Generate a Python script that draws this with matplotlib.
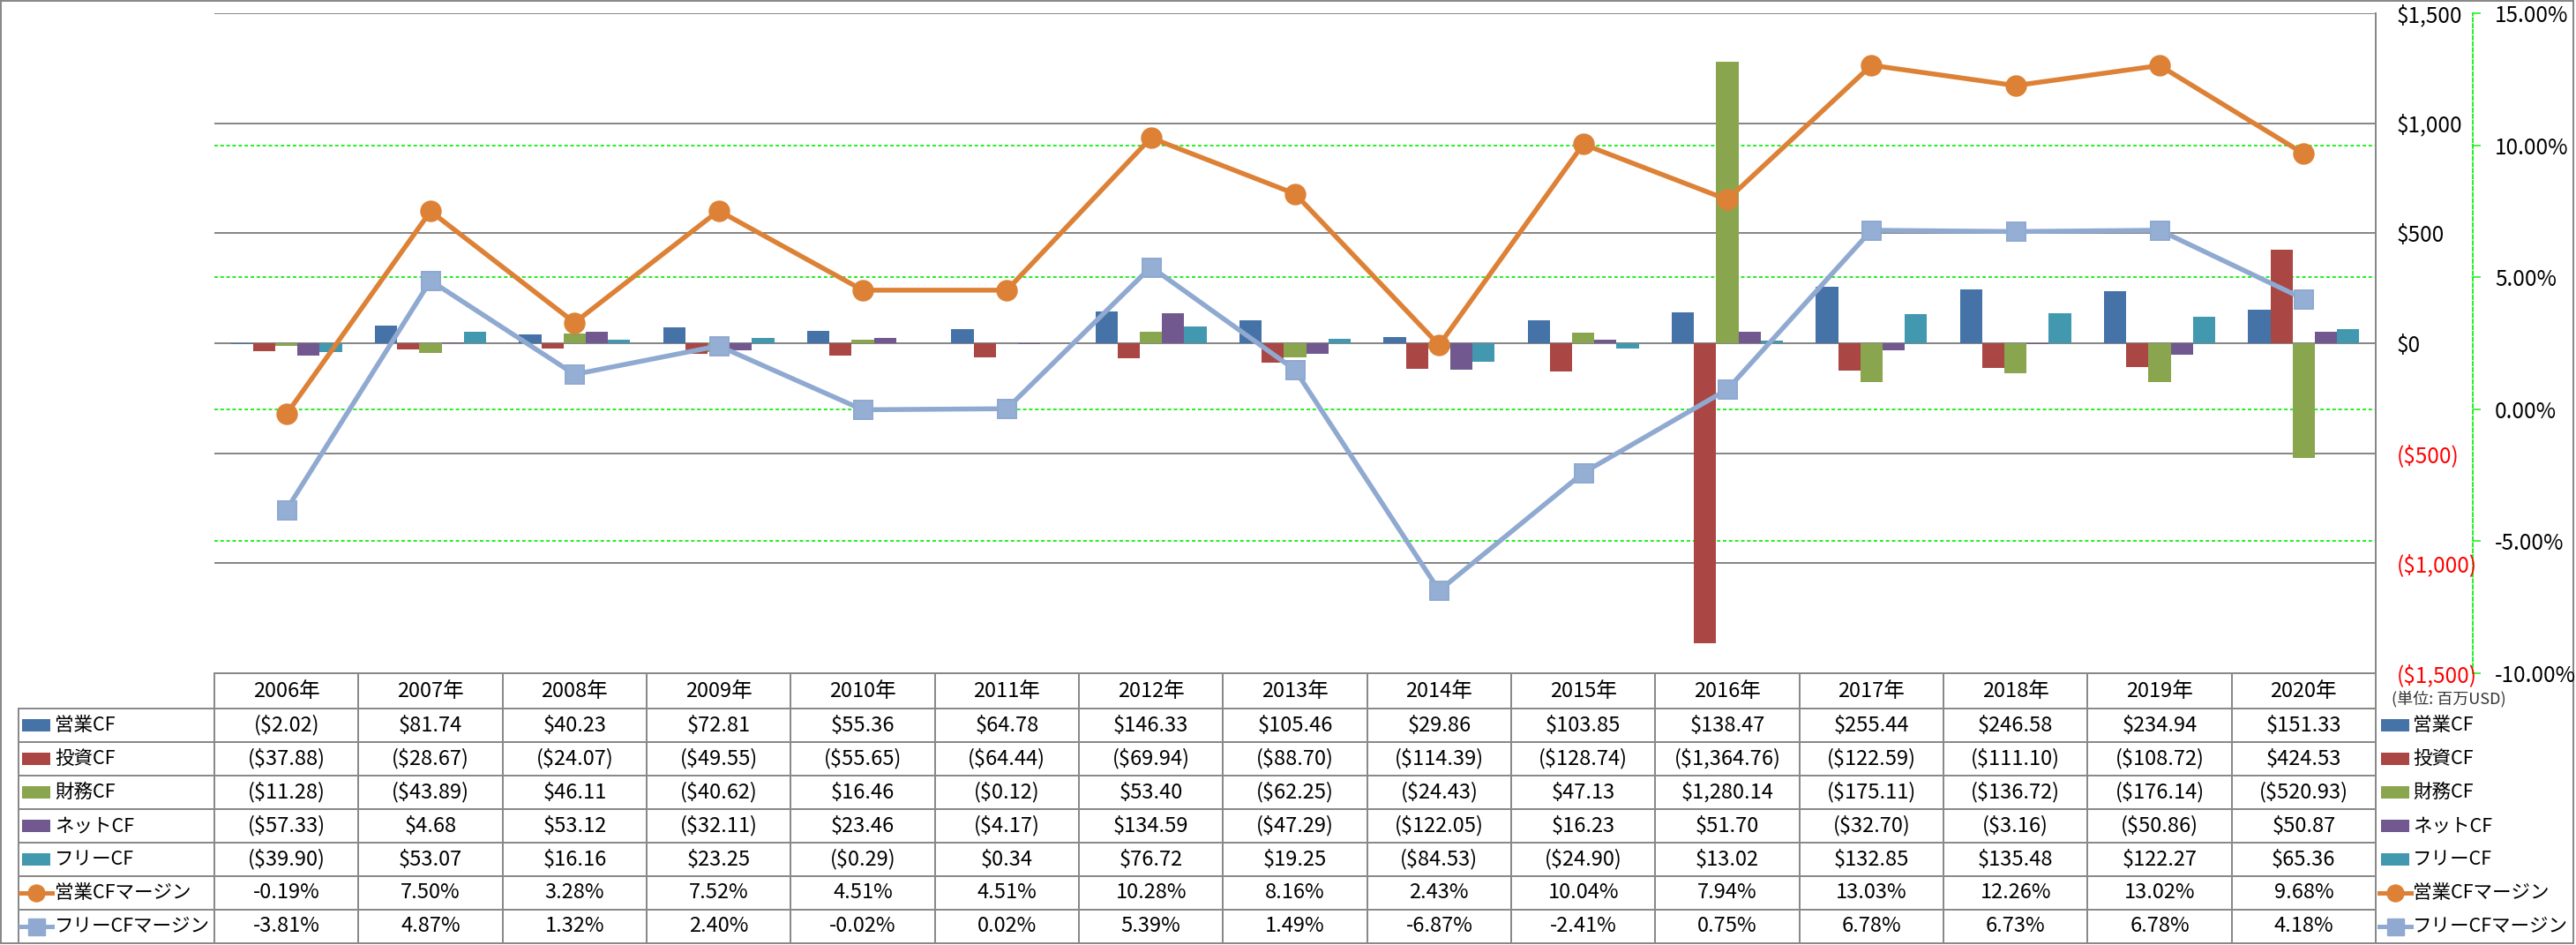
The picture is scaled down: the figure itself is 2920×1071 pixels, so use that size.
import matplotlib
matplotlib.use("Agg")
import matplotlib.pyplot as plt
from matplotlib.patches import Rectangle
import matplotlib.transforms as mtransforms
import numpy as np

plt.rcParams['font.family'] = ['Noto Sans CJK JP', 'DejaVu Sans']

# ---------------- data ----------------
years = ["2006年", "2007年", "2008年", "2009年", "2010年", "2011年", "2012年", "2013年",
         "2014年", "2015年", "2016年", "2017年", "2018年", "2019年", "2020年"]
op_cf = [-2.02, 81.74, 40.23, 72.81, 55.36, 64.78, 146.33, 105.46, 29.86, 103.85,
         138.47, 255.44, 246.58, 234.94, 151.33]
inv_cf = [-37.88, -28.67, -24.07, -49.55, -55.65, -64.44, -69.94, -88.70, -114.39, -128.74,
          -1364.76, -122.59, -111.10, -108.72, 424.53]
fin_cf = [-11.28, -43.89, 46.11, -40.62, 16.46, -0.12, 53.40, -62.25, -24.43, 47.13,
          1280.14, -175.11, -136.72, -176.14, -520.93]
net_cf = [-57.33, 4.68, 53.12, -32.11, 23.46, -4.17, 134.59, -47.29, -122.05, 16.23,
          51.70, -32.70, -3.16, -50.86, 50.87]
free_cf = [-39.90, 53.07, 16.16, 23.25, -0.29, 0.34, 76.72, 19.25, -84.53, -24.90,
           13.02, 132.85, 135.48, 122.27, 65.36]
op_margin = [-0.19, 7.50, 3.28, 7.52, 4.51, 4.51, 10.28, 8.16, 2.43, 10.04,
             7.94, 13.03, 12.26, 13.02, 9.68]
free_margin = [-3.81, 4.87, 1.32, 2.40, -0.02, 0.02, 5.39, 1.49, -6.87, -2.41,
               0.75, 6.78, 6.73, 6.78, 4.18]

bar_names = ["営業CF", "投資CF", "財務CF", "ネットCF", "フリーCF"]
line_names = ["営業CFマージン", "フリーCFマージン"]
usd_ticks = [-1500, -1000, -500, 0, 500, 1000, 1500]
pct_ticks = [-10, -5, 0, 5, 10, 15]
unit_label = "(単位: 百万USD)"

# ---------------- style ----------------
bar_colors = ['#4572A7', '#AA4643', '#89A54E', '#71588F', '#4198AF']
line_colors = ['#DD8136', '#8FA9D1']
grid_gray = '#878787'
green = '#11EE11'
neg_red = '#FF0000'

W, H = 2920, 1071
DPI = 100
fig = plt.figure(figsize=(W / DPI, H / DPI), dpi=DPI)
fig.patch.set_facecolor('white')

px = lambda p: p * 72.0 / DPI  # pixels -> points

x0, x1 = 243, 2693
ytop, ybot = 15, 763
ax = fig.add_axes([x0 / W, 1 - ybot / H, (x1 - x0) / W, (ybot - ytop) / H])
ax2 = ax.twinx()
ax2.set_zorder(0)
ax.set_zorder(1)
ax.patch.set_visible(False)
ax2.patch.set_visible(True)
ax2.patch.set_facecolor('white')

n = len(years)
x = np.arange(n)
series = [op_cf, inv_cf, fin_cf, net_cf, free_cf]
bw = 0.1543
for k, (vals, col) in enumerate(zip(series, bar_colors)):
    ax.bar(x + (k - 2) * bw, vals, width=bw, color=col, zorder=2, linewidth=0)

ax.set_xlim(-0.5, n - 0.5)
ax.set_ylim(-1500, 1500)
ax2.set_ylim(-10, 15)

# lines (percent scale) drawn above bars
ax.plot(x, op_margin, transform=ax2.transData, color=line_colors[0], lw=px(5.5),
        marker='o', markersize=px(23), zorder=5, solid_joinstyle='round')
ax.plot(x, free_margin, transform=ax2.transData, color=line_colors[1], lw=px(5.5),
        marker='s', markersize=px(21), zorder=4, solid_joinstyle='round',
        markeredgewidth=px(2), markeredgecolor=line_colors[1], markerfacecolor='#95AED4')


def money0(v):
    s = f"${abs(v):,.0f}"
    return f"({s})" if v < 0 else s


def money2(v):
    s = f"${abs(v):,.2f}"
    return f"({s})" if v < 0 else s


# primary $ axis on the right
ax.yaxis.tick_right()
ax.set_yticks(usd_ticks, labels=[money0(v) for v in usd_ticks])
ax.tick_params(axis='y', length=0, pad=px(24), labelsize=17.5)
for v, lab in zip(usd_ticks, ax.get_yticklabels()):
    lab.set_color(neg_red if v < 0 else 'black')
ax.set_xticks([])
ax.grid(axis='y', color=grid_gray, lw=px(2), zorder=0)
ax.set_axisbelow(True)
for s in ['left', 'top', 'bottom']:
    ax.spines[s].set_visible(False)
ax.spines['right'].set_color(grid_gray)
ax.spines['right'].set_linewidth(px(2))

# secondary % axis
ax2.set_yticks(pct_ticks, labels=[f"{v:.2f}%" for v in pct_ticks])
ax2.tick_params(axis='y', length=px(9), width=px(1.5), color=green, pad=px(16), labelsize=17.5)
for v, lab in zip(pct_ticks, ax2.get_yticklabels()):
    lab.set_color(neg_red if v < 0 else 'black')
ax2.grid(axis='y', color=green, lw=px(1.8), linestyle=(0, (2.2, 1.6)))
for s in ['left', 'top', 'bottom']:
    ax2.spines[s].set_visible(False)
ax2.spines['right'].set_position(('outward', px(110)))
ax2.spines['right'].set_color(green)
ax2.spines['right'].set_linestyle((0, (2.2, 1.6)))
ax2.spines['right'].set_linewidth(px(1.8))

# ---------------- data table ----------------
tab = fig.add_axes([0, 0, 1, 1], zorder=-1)
tab.set_xlim(0, W)
tab.set_ylim(H, 0)
tab.axis('off')
tab.patch.set_visible(False)

lc = '#898989'
lw_t = px(2)
hdr_top, hdr_bot = 763, 803
row_h = (1069 - hdr_bot) / 7.0
row_left = 21

# outer chart border
tab.add_patch(Rectangle((1, 1), W - 4, H - 3, fill=False, edgecolor=lc, lw=lw_t))

# horizontal lines
tab.plot([x0, x1], [hdr_top, hdr_top], color=lc, lw=lw_t)
for r in range(8):
    yy = hdr_bot + r * row_h
    tab.plot([row_left, x1], [yy, yy], color=lc, lw=lw_t)
# vertical lines
tab.plot([row_left, row_left], [hdr_bot, hdr_bot + 7 * row_h], color=lc, lw=lw_t)
col_edges = np.linspace(x0, x1, n + 1)
for xe in col_edges:
    tab.plot([xe, xe], [hdr_top, hdr_bot + 7 * row_h], color=lc, lw=lw_t)

blend = mtransforms.blended_transform_factory(ax.transData, tab.transData)
fs = 17
for i, yl in enumerate(years):
    tab.text(i, (hdr_top + hdr_bot) / 2, yl, transform=blend, ha='center',
             va='center', fontsize=fs)

rows_vals = series + [op_margin, free_margin]
for r, vals in enumerate(rows_vals):
    yc = hdr_bot + (r + 0.5) * row_h
    for i, v in enumerate(vals):
        txt = money2(v) if r < 5 else f"{v:.2f}%"
        tab.text(i, yc, txt, transform=blend, ha='center', va='center', fontsize=fs)

all_names = bar_names + line_names


def legend_key(xl, yc, r):
    if r < 5:
        tab.add_patch(Rectangle((xl + 2, yc - 7), 32, 14, color=bar_colors[r], lw=0))
    else:
        c = line_colors[r - 5]
        tab.plot([xl, xl + 36], [yc, yc], color=c, lw=px(5))
        tab.plot([xl + 18], [yc], marker='o' if r == 5 else 's', color=c,
                 markersize=px(19))


lfs = 15.5
for r, name in enumerate(all_names):
    yc = hdr_bot + (r + 0.5) * row_h
    legend_key(23, yc, r)
    tab.text(62, yc, name, ha='left', va='center', fontsize=lfs)
    legend_key(2697, yc, r)
    tab.text(2735, yc, name, ha='left', va='center', fontsize=lfs)

tab.text(2711, 792, unit_label, ha='left', va='center', fontsize=13, color='#333333')

fig.savefig('out.png', dpi=DPI)
